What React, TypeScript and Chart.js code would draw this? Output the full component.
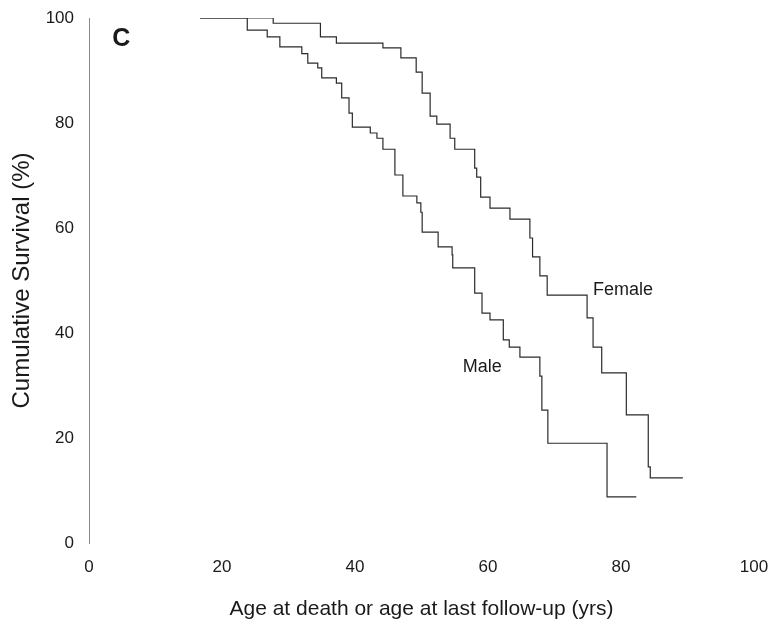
import React, { useEffect, useRef } from "react";
import { Chart, registerables } from "chart.js";

Chart.register(...registerables);

// Kaplan-Meier survival steps (age in years, survival %)
const maleAge = [16.7, 23.8, 26.8, 28.7, 32.0, 32.9, 34.4, 35.0, 37.2, 38.0, 39.1, 39.6, 42.3, 43.3, 44.2, 46.0, 47.2, 49.3, 49.9, 50.1, 52.5, 54.6, 54.7, 58.0, 59.1, 60.3, 62.3, 63.2, 64.8, 67.8, 68.1, 69.0, 77.9, 82.3];
const maleSurv = [100, 97.7, 96.4, 94.5, 93.2, 91.4, 90.5, 88.6, 87.6, 84.8, 81.9, 79.2, 78.1, 77.1, 75.0, 70.1, 66.1, 64.8, 63.0, 59.2, 56.4, 54.9, 52.4, 47.6, 43.8, 42.5, 38.7, 37.3, 35.4, 31.8, 25.3, 19.0, 8.8, 8.8];

const femaleAge = [16.7, 27.7, 34.8, 37.2, 44.2, 46.9, 49.2, 50.1, 51.3, 52.3, 54.3, 55.0, 58.0, 58.3, 58.9, 60.3, 63.3, 66.3, 66.7, 67.8, 68.9, 74.9, 75.8, 77.1, 80.8, 84.1, 84.4, 89.3];
const femaleSurv = [100, 99.0, 96.4, 95.2, 94.3, 92.4, 89.7, 85.7, 81.3, 79.8, 77.1, 75.0, 71.4, 69.7, 65.9, 63.8, 61.7, 58.1, 54.5, 50.9, 47.2, 42.9, 37.3, 32.4, 24.4, 14.5, 12.4, 12.4];

const xTicks = [0, 20, 40, 60, 80, 100];
const yTicks = [0, 20, 40, 60, 80, 100];

// Text annotations: label, x (age), y (%), font
const noteText = ["Female", "Male", "C"];
const noteX = [75.8, 56.2, 3.5];
const noteY = [48.2, 33.5, 96];
const noteFont = ["18px 'Liberation Sans', Arial, sans-serif", "18px 'Liberation Sans', Arial, sans-serif", "bold 25px 'Liberation Sans', Arial, sans-serif"];

const FONT = "'Liberation Sans', Arial, sans-serif";

const notesPlugin = {
  id: "notes",
  afterDatasetsDraw(chart: any) {
    const { ctx, scales } = chart;
    ctx.save();
    ctx.fillStyle = "#1a1a1a";
    ctx.textAlign = "left";
    ctx.textBaseline = "middle";
    noteText.forEach((t, i) => {
      ctx.font = noteFont[i];
      ctx.fillText(t, scales.x.getPixelForValue(noteX[i]), scales.y.getPixelForValue(noteY[i]));
    });
    ctx.restore();
  },
};

export default function App() {
  const ref = useRef<HTMLCanvasElement>(null);
  useEffect(() => {
    if (!ref.current) return;
    const toPts = (xs: number[], ys: number[]) => xs.map((x, i) => ({ x, y: ys[i] }));
    const chart = new Chart(ref.current, {
      type: "line",
      data: {
        datasets: [
          {
            label: "Male",
            data: toPts(maleAge, maleSurv),
            stepped: true,
            borderColor: "#2b2b2b",
            borderWidth: 1.2,
            pointRadius: 0,
            fill: false,
          },
          {
            label: "Female",
            data: toPts(femaleAge, femaleSurv),
            stepped: true,
            borderColor: "#2b2b2b",
            borderWidth: 1.2,
            pointRadius: 0,
            fill: false,
          },
        ],
      },
      options: {
        animation: false,
        responsive: false,
        devicePixelRatio: 1,
        layout: { padding: { top: 18, right: 18, bottom: 0, left: 0 } },
        plugins: { legend: { display: false }, tooltip: { enabled: false } },
        scales: {
          x: {
            type: "linear",
            min: 0,
            max: 100,
            afterBuildTicks: (s: any) => { s.ticks = xTicks.map((v) => ({ value: v })); },
            afterFit: (s: any) => { s.height = 82; s.paddingLeft = 0; s.paddingRight = 0; },
            grid: { display: false, drawTicks: false },
            border: { display: false },
            ticks: { color: "#1a1a1a", font: { family: FONT, size: 17 }, padding: 14, maxRotation: 0 },
            title: { display: true, text: "Age at death or age at last follow-up (yrs)", color: "#1a1a1a", font: { family: FONT, size: 21 }, padding: { top: 0, bottom: 3 } },
          },
          y: {
            type: "linear",
            min: 0,
            max: 100,
            afterBuildTicks: (s: any) => { s.ticks = yTicks.map((v) => ({ value: v })); },
            afterFit: (s: any) => { s.width = 89; s.paddingTop = 0; s.paddingBottom = 0; },
            grid: { display: false, drawTicks: false },
            border: { display: true, color: "#8a8a8a", width: 1 },
            ticks: { color: "#1a1a1a", font: { family: FONT, size: 17 }, padding: 15 },
            title: { display: true, text: "Cumulative Survival (%)", color: "#1a1a1a", font: { family: FONT, size: 24 }, padding: { top: 8, bottom: 0 } },
          },
        },
      },
      plugins: [notesPlugin],
    });
    return () => chart.destroy();
  }, []);
  return (
    <div style={{ position: "absolute", left: 0, top: 0, width: 772, height: 625, background: "#fff" }}>
      <canvas ref={ref} width={772} height={625} style={{ display: "block" }} />
    </div>
  );
}
